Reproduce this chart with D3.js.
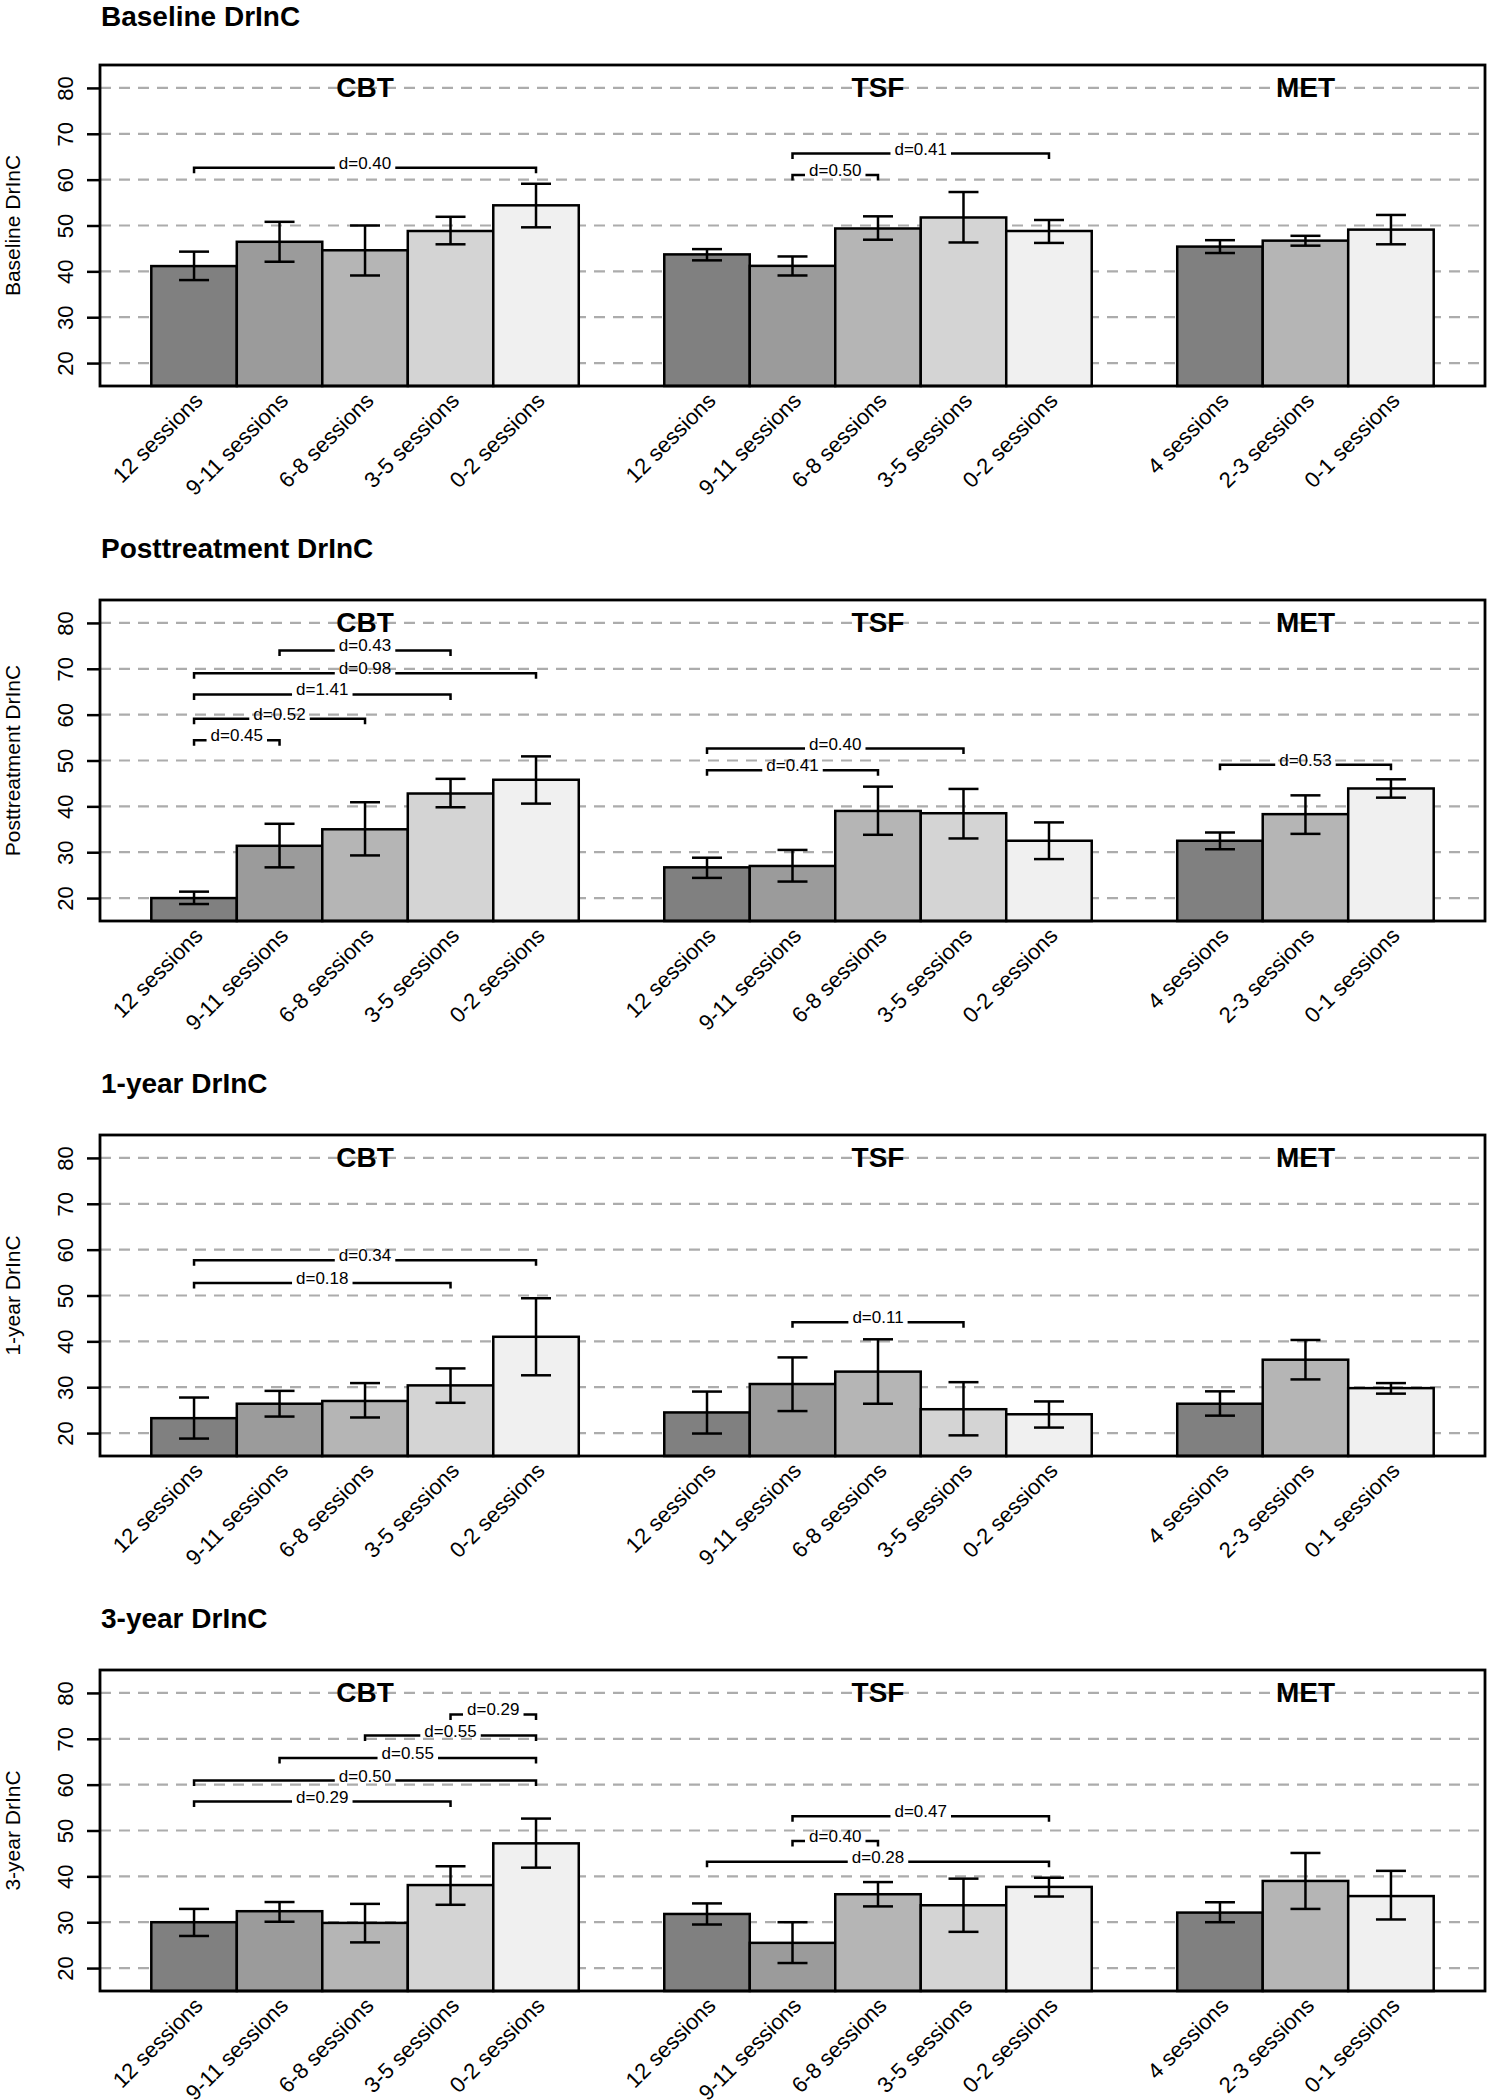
<!DOCTYPE html>
<html>
<head>
<meta charset="utf-8">
<script src="https://cdn.jsdelivr.net/npm/d3@7"></script>
<style>
  html, body { margin: 0; padding: 0; background: #fff; }
  text { font-family: "Liberation Sans", Arial, Helvetica, sans-serif; }
</style>
</head>
<body>
<script>
// ---------------- DATA ----------------
const panelTitles = ["Baseline DrInC", "Posttreatment DrInC", "1-year DrInC", "3-year DrInC"];
const axisTitles  = ["Baseline DrInC", "Posttreatment DrInC", "1-year DrInC", "3-year DrInC"];
const groups = ["CBT", "TSF", "MET"];
const cbtSessions = ["12 sessions", "9-11 sessions", "6-8 sessions", "3-5 sessions", "0-2 sessions"];
const tsfSessions = ["12 sessions", "9-11 sessions", "6-8 sessions", "3-5 sessions", "0-2 sessions"];
const metSessions = ["4 sessions", "2-3 sessions", "0-1 sessions"];
const yTicks = [20, 30, 40, 50, 60, 70, 80];
const yDomain = [15, 85];

// bar order: CBT x5, TSF x5, MET x3
const baselineMean = [41.15, 46.45, 44.6, 48.8, 54.4,   43.7, 41.2, 49.35, 51.75, 48.8,   45.4, 46.7, 49.1];
const baselineLow  = [38.1, 42.1, 39.1, 45.9, 49.6,     42.4, 39.1, 46.9, 46.3, 46.2,     44.0, 45.6, 45.9];
const baselineHigh = [44.3, 50.8, 50.0, 51.9, 59.1,     44.85, 43.25, 52.0, 57.3, 51.2,   46.8, 47.75, 52.3];

const postMean = [20.0, 31.4, 35.0, 42.8, 45.8,   26.7, 27.0, 39.0, 38.5, 32.5,   32.5, 38.3, 43.9];
const postLow  = [18.7, 26.7, 29.3, 39.8, 40.6,   24.4, 23.6, 33.8, 33.0, 28.5,   30.65, 34.0, 41.9];
const postHigh = [21.4, 36.2, 40.9, 46.0, 50.9,   28.8, 30.5, 44.3, 43.8, 36.5,   34.3, 42.4, 45.9];

const year1Mean = [23.25, 26.4, 27.0, 30.4, 41.0,  24.5, 30.7, 33.4, 25.2, 24.1,   26.4, 36.0, 29.8];
const year1Low  = [18.8, 23.6, 23.4, 26.6, 32.6,   19.9, 24.8, 26.4, 19.5, 21.2,   23.8, 31.7, 28.6];
const year1High = [27.75, 29.2, 30.9, 34.1, 49.4,  29.05, 36.5, 40.45, 31.1, 26.9, 29.1, 40.3, 30.9];

const year3Mean = [30.0, 32.4, 29.85, 38.1, 47.2,  31.8, 25.5, 36.1, 33.7, 37.7,   32.1, 39.0, 35.7];
const year3Low  = [27.0, 30.1, 25.6, 33.8, 41.9,   29.5, 21.1, 33.45, 27.9, 35.6,  30.0, 32.9, 30.6];
const year3High = [32.9, 34.4, 34.0, 42.2, 52.6,   34.1, 30.0, 38.75, 39.5, 39.7,  34.35, 45.1, 41.2];

// effect-size brackets: [group, fromBar, toBar, level (DrInC units), label]
const baselineBrackets = [["CBT",0,4,62.6,"d=0.40"], ["TSF",1,4,65.7,"d=0.41"], ["TSF",1,2,61.0,"d=0.50"]];
const postBrackets = [["CBT",1,3,74.0,"d=0.43"], ["CBT",0,4,69.0,"d=0.98"], ["CBT",0,3,64.4,"d=1.41"],
                      ["CBT",0,2,59.1,"d=0.52"], ["CBT",0,1,54.4,"d=0.45"],
                      ["TSF",0,3,52.6,"d=0.40"], ["TSF",0,2,47.9,"d=0.41"], ["MET",0,2,49.1,"d=0.53"]];
const year1Brackets = [["CBT",0,4,57.7,"d=0.34"], ["CBT",0,3,52.7,"d=0.18"], ["TSF",1,3,44.15,"d=0.11"]];
const year3Brackets = [["CBT",3,4,75.3,"d=0.29"], ["CBT",2,4,70.7,"d=0.55"], ["CBT",1,4,65.8,"d=0.55"],
                       ["CBT",0,4,60.9,"d=0.50"], ["CBT",0,3,56.3,"d=0.29"],
                       ["TSF",1,4,53.1,"d=0.47"], ["TSF",1,2,47.7,"d=0.40"], ["TSF",0,4,43.2,"d=0.28"]];

const fills5 = ["#808080", "#9b9b9b", "#b5b5b5", "#d4d4d4", "#f0f0f0"];
const fills3 = ["#808080", "#b5b5b5", "#f0f0f0"];

// ---------------- BUILD ----------------
const groupSessions = [cbtSessions, tsfSessions, metSessions];
const groupStart = {}; // slot index of first bar in each group (one empty slot between groups)
let slotCursor = 0;
const bars = [];
groups.forEach((g, gi) => {
  groupStart[g] = slotCursor;
  groupSessions[gi].forEach((lab, bi) => {
    bars.push({group: g, label: lab, slot: slotCursor, fill: (groupSessions[gi].length === 5 ? fills5 : fills3)[bi]});
    slotCursor++;
  });
  slotCursor++;
});
const nSlots = slotCursor - 1; // 15

const panels = [
  {title: panelTitles[0], ylab: axisTitles[0], mean: baselineMean, low: baselineLow, high: baselineHigh, brackets: baselineBrackets},
  {title: panelTitles[1], ylab: axisTitles[1], mean: postMean, low: postLow, high: postHigh, brackets: postBrackets},
  {title: panelTitles[2], ylab: axisTitles[2], mean: year1Mean, low: year1Low, high: year1High, brackets: year1Brackets},
  {title: panelTitles[3], ylab: axisTitles[3], mean: year3Mean, low: year3Low, high: year3High, brackets: year3Brackets}
];

const W = 1488, H = 2100;
const frameLeft = 100, frameRight = 1485, frameH = 321, firstTop = 65, panelStep = 535;
const pad = nSlots * 0.04;
const x = d3.scaleLinear().domain([-pad, nSlots + pad]).range([frameLeft, frameRight]);

const svg = d3.select("body").append("svg").attr("width", W).attr("height", H)
  .style("display", "block").style("background", "#fff");

panels.forEach((p, pi) => {
  const top = firstTop + pi * panelStep;
  const y = d3.scaleLinear().domain(yDomain).range([top + frameH, top]);
  const g = svg.append("g");

  // title
  g.append("text").attr("x", frameLeft + 1).attr("y", Math.max(top - 42.5, 25.5))
    .attr("font-size", 28).attr("font-weight", "bold").attr("fill", "#000").text(p.title);

  // grid lines
  g.append("g").selectAll("line").data(yTicks).join("line")
    .attr("x1", frameLeft).attr("x2", frameRight)
    .attr("y1", d => y(d)).attr("y2", d => y(d))
    .attr("stroke", "#acacac").attr("stroke-width", 2.2).attr("stroke-dasharray", "11,8");

  // bars
  g.append("g").selectAll("rect").data(bars).join("rect")
    .attr("x", d => x(d.slot)).attr("width", d => x(d.slot + 1) - x(d.slot))
    .attr("y", (d, i) => y(p.mean[i])).attr("height", (d, i) => y(yDomain[0]) - y(p.mean[i]))
    .attr("fill", d => d.fill).attr("stroke", "#000").attr("stroke-width", 2.5);

  // error bars
  const eb = g.append("g").attr("stroke", "#000").attr("stroke-width", 2.5);
  bars.forEach((d, i) => {
    const cx = x(d.slot + 0.5);
    eb.append("line").attr("x1", cx).attr("x2", cx).attr("y1", y(p.low[i])).attr("y2", y(p.high[i]));
    eb.append("line").attr("x1", cx - 15).attr("x2", cx + 15).attr("y1", y(p.low[i])).attr("y2", y(p.low[i]));
    eb.append("line").attr("x1", cx - 15).attr("x2", cx + 15).attr("y1", y(p.high[i])).attr("y2", y(p.high[i]));
  });

  // brackets
  p.brackets.forEach(b => {
    const [grp, from, to, level, lab] = b;
    const x1 = x(groupStart[grp] + from + 0.5), x2 = x(groupStart[grp] + to + 0.5);
    const yy = y(level), mid = (x1 + x2) / 2;
    const t = g.append("text").attr("x", mid).attr("y", yy + 1).attr("text-anchor", "middle")
      .attr("font-size", 17).attr("fill", "#000").text(lab);
    const tw = t.node().getComputedTextLength();
    const gap = tw / 2 + 4;
    g.append("path").attr("fill", "none").attr("stroke", "#000").attr("stroke-width", 2.5)
      .attr("d", `M${x1},${yy + 5.5}V${yy}H${mid - gap}M${mid + gap},${yy}H${x2}V${yy + 5.5}`);
  });

  // group labels
  groups.forEach((gname, gi) => {
    const n = groupSessions[gi].length;
    g.append("text").attr("x", x(groupStart[gname] + n / 2)).attr("y", top + 32)
      .attr("text-anchor", "middle").attr("font-size", 28).attr("font-weight", "bold")
      .attr("fill", "#000").text(gname);
  });

  // frame
  g.append("rect").attr("x", frameLeft).attr("y", top).attr("width", frameRight - frameLeft).attr("height", frameH)
    .attr("fill", "none").attr("stroke", "#000").attr("stroke-width", 2.8);

  // y axis
  const ax = g.append("g").attr("transform", `translate(${frameLeft},0)`)
    .call(d3.axisLeft(y).tickValues(yTicks).tickSize(13).tickSizeOuter(0));
  ax.select(".domain").remove();
  ax.selectAll(".tick line").attr("stroke", "#000").attr("stroke-width", 2.5);
  ax.selectAll(".tick text").attr("x", null).attr("dy", null)
    .attr("transform", "translate(-27,0) rotate(-90)")
    .attr("text-anchor", "middle").attr("font-size", 22).attr("fill", "#000")
    .attr("font-family", "'Liberation Sans', Arial, sans-serif");

  // y axis title
  g.append("text").attr("transform", `translate(20,${top + frameH / 2}) rotate(-90)`)
    .attr("text-anchor", "middle").attr("font-size", 21).attr("fill", "#000").text(p.ylab);

  // x labels
  g.append("g").selectAll("text").data(bars).join("text")
    .attr("transform", d => `translate(${x(d.slot + 0.5) + 10},${top + frameH + 16}) rotate(-45)`)
    .attr("text-anchor", "end").attr("font-size", 22).attr("fill", "#000").text(d => d.label);
});
</script>
</body>
</html>
